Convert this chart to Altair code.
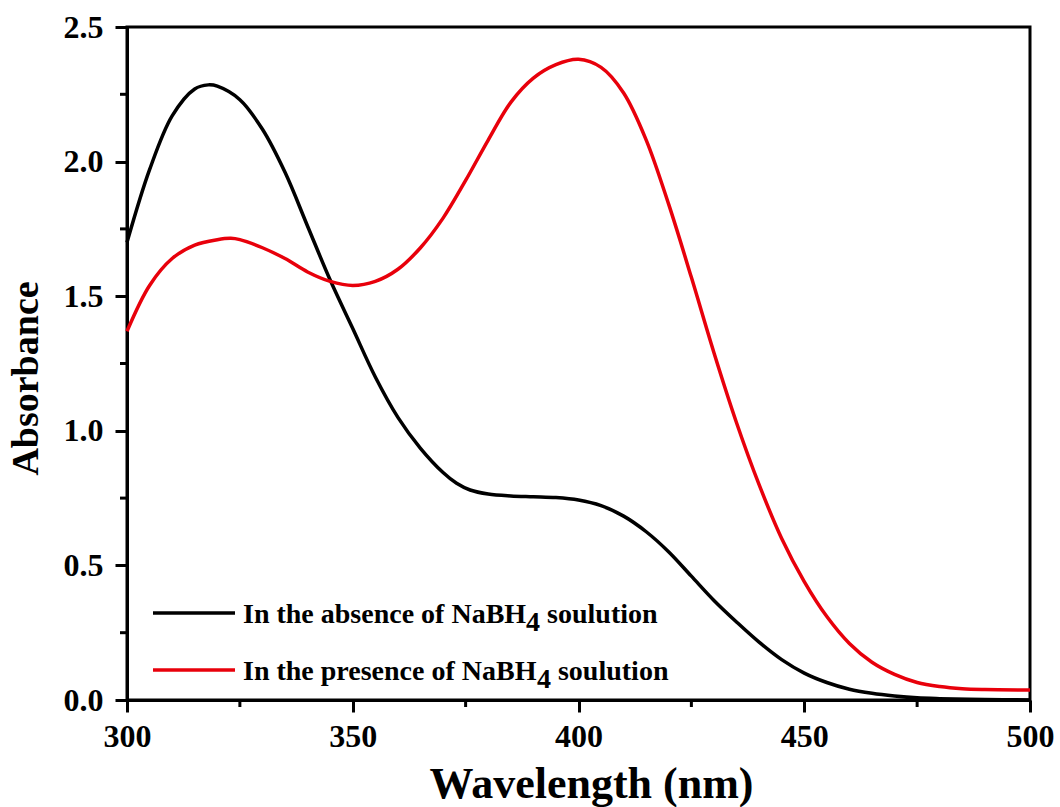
import altair as alt
import pandas as pd

# ---- data ----
wl_black = [300, 305, 310, 315, 318, 320, 325, 330, 335, 340, 345, 350, 355, 360, 365, 370,
            373, 376, 380, 385, 390, 395, 400, 405, 410, 415, 420, 425, 430, 435, 440, 445, 450,
            455, 460, 465, 470, 475, 480, 490, 500]
abs_black = [1.70, 1.97, 2.17, 2.27, 2.285, 2.28, 2.23, 2.12, 1.96, 1.76, 1.56, 1.38, 1.20, 1.05,
             0.935, 0.845, 0.805, 0.78, 0.765, 0.758, 0.755, 0.752, 0.743, 0.722, 0.683, 0.625,
             0.55, 0.46, 0.37, 0.29, 0.215, 0.15, 0.10, 0.065, 0.04, 0.025, 0.015, 0.008, 0.005,
             0.002, 0.0]

wl_red = [300, 305, 310, 315, 320, 323, 325, 330, 335, 340, 345, 350, 355, 360, 365, 370, 375,
          380, 385, 390, 395, 400, 405, 410, 415, 420, 425, 430, 435, 440, 445, 450, 455,
          460, 465, 470, 475, 480, 485, 490, 500]
abs_red = [1.37, 1.54, 1.64, 1.69, 1.71, 1.715, 1.71, 1.68, 1.64, 1.59, 1.555, 1.54, 1.555, 1.60,
           1.68, 1.79, 1.93, 2.08, 2.22, 2.31, 2.36, 2.38, 2.35, 2.255, 2.08, 1.84, 1.57,
           1.29, 1.03, 0.80, 0.60, 0.44, 0.31, 0.21, 0.14, 0.095, 0.065, 0.05, 0.042, 0.039, 0.037]

series_names = ["In the absence of NaBH4 soulution", "In the presence of NaBH4 soulution"]
series_colors = ["#000000", "#e8000b"]

x_ticks = [300, 350, 400, 450, 500]
x_minor = [325, 375, 425, 475]
y_ticks = [0.0, 0.5, 1.0, 1.5, 2.0, 2.5]
y_minor = [0.25, 0.75, 1.25, 1.75, 2.25]

W, H = 903, 673
FONT = "Liberation Serif"

df = pd.concat([
    pd.DataFrame({"wl": wl_black, "A": abs_black, "s": series_names[0]}),
    pd.DataFrame({"wl": wl_red, "A": abs_red, "s": series_names[1]}),
])

xscale = alt.Scale(domain=[300, 500], nice=False, zero=False)
yscale = alt.Scale(domain=[0, 2.5], nice=False)

lines = alt.Chart(df).mark_line(strokeWidth=3.5, interpolate="catmull-rom").encode(
    x=alt.X("wl:Q", scale=xscale,
            axis=alt.Axis(values=x_ticks, format="d", title="Wavelength (nm)",
                          titleFontSize=44, titlePadding=10, titleX=464)),
    y=alt.Y("A:Q", scale=yscale,
            axis=alt.Axis(values=y_ticks, format=".1f", title="Absorbance",
                          titleFontSize=38, titlePadding=18, titleY=351)),
    color=alt.Color("s:N", scale=alt.Scale(domain=series_names, range=series_colors), legend=None),
)

ymin = alt.Chart(pd.DataFrame({"v": y_minor})).mark_rule(color="black", strokeWidth=3).encode(
    y=alt.Y("v:Q", scale=yscale), x=alt.value(-7), x2=alt.value(0))
xmin = alt.Chart(pd.DataFrame({"v": x_minor})).mark_rule(color="black", strokeWidth=3).encode(
    x=alt.X("v:Q", scale=xscale), y=alt.value(H), y2=alt.value(H + 7))

# ---- legend drawn by hand (subscript 4) ----
widths = {"I": 389, "n": 556, " ": 250, "t": 333, "h": 556, "e": 444, "a": 500, "b": 556,
          "s": 389, "c": 444, "o": 500, "f": 333, "N": 722, "B": 667, "H": 778, "4": 500,
          "u": 556, "l": 278, "i": 278, "p": 556, "r": 444}
LFS = 28
def tw(t, fs=LFS):
    return sum(widths.get(ch, 500) for ch in t) / 1000 * fs

leg_rows = [("In the absence of NaBH", "4", "soulution", 586, 596, series_colors[0]),
            ("In the presence of NaBH", "4", "soulution", 643, 653, series_colors[1])]
leg_layers = []
tx0 = 116
for p1, p2, p3, ly, by, col in leg_rows:
    one = alt.Chart(pd.DataFrame({"k": [0]}))
    leg_layers.append(one.mark_rule(color=col, strokeWidth=3.5).encode(
        x=alt.value(26), x2=alt.value(108), y=alt.value(ly)))
    pieces = [(p1, tx0, by), (p2, tx0 + tw(p1), by + 8),
              (p3, tx0 + tw(p1) + tw(p2) + tw(" "), by)]
    for txt, px, py in pieces:
        leg_layers.append(one.mark_text(text=txt, font=FONT, fontWeight="bold", fontSize=LFS,
                                        align="left", baseline="alphabetic", color="black").encode(
            x=alt.value(px), y=alt.value(py)))

chart = alt.layer(lines, ymin, xmin, *leg_layers).properties(
    width=W, height=H,
    autosize=alt.AutoSizeParams(type="none"),
    padding={"left": 127, "top": 27, "right": 30, "bottom": 107},
).configure_view(stroke="black", strokeWidth=3).configure_axis(
    grid=False, domainColor="black", domainWidth=3, tickColor="black", tickWidth=3,
    tickSize=12, labelFont=FONT, labelFontWeight="bold", labelFontSize=32,
    labelColor="black", titleFont=FONT, titleFontWeight="bold", titleColor="black",
    labelFlush=False, labelOverlap=False,
).configure_axisX(labelPadding=9).configure_axisY(labelPadding=12)

chart.save("out.html", embed_options={"renderer": "svg", "actions": False})
